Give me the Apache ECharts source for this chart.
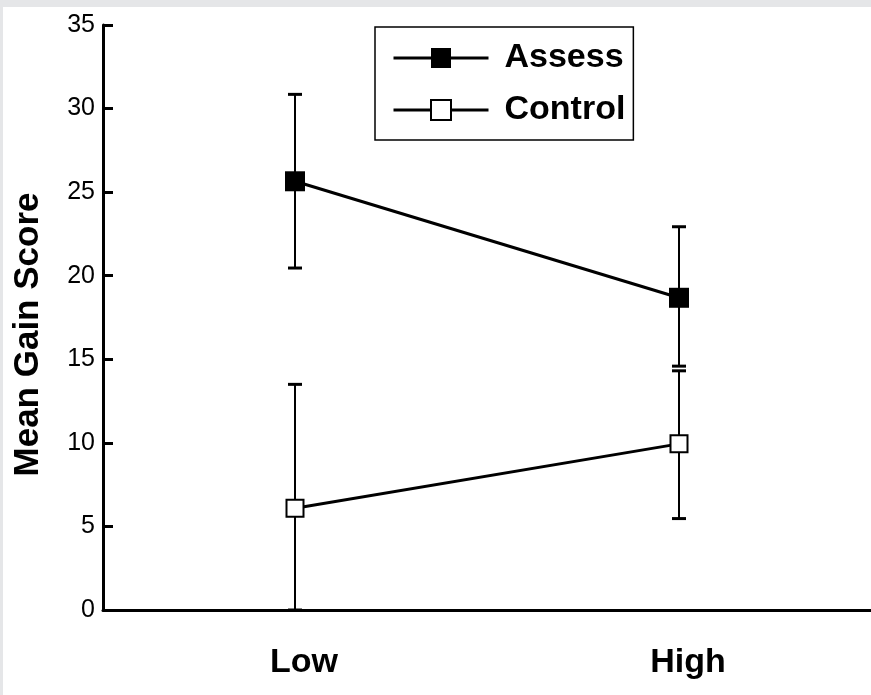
<!DOCTYPE html>
<html>
<head>
<meta charset="utf-8">
<script src="https://cdn.jsdelivr.net/npm/echarts@6/dist/echarts.min.js"></script>
<style>
  html, body { margin: 0; padding: 0; background: #e5e6e8; }
  #chart { position: absolute; left: 3px; top: 7px; width: 868px; height: 688px; background: #ffffff; }
</style>
</head>
<body>
<div id="chart"></div>
<script>
const categories = ['Low', 'High'];
const assessMean = [25.65, 18.68];
const assessUpper = [30.85, 22.93];
const assessLower = [20.46, 14.59];
const controlMean = [6.09, 9.94];
const controlUpper = [13.5, 14.31];
const controlLower = [0, 5.47];
const yMin = 0, yMax = 35, yStep = 5;

const errData = [];
categories.forEach((c, i) => {
  errData.push([i, assessLower[i], assessUpper[i]]);
  errData.push([i, controlLower[i], controlUpper[i]]);
});

function renderErr(params, api) {
  const x = api.value(0);
  const lo = api.coord([x, api.value(1)]);
  const hi = api.coord([x, api.value(2)]);
  const cw = 7;
  const stroke = { stroke: '#000', lineWidth: 2 };
  const capStroke = { stroke: '#000', lineWidth: 3 };
  return {
    type: 'group',
    children: [
      { type: 'line', shape: { x1: lo[0], y1: lo[1], x2: hi[0], y2: hi[1] }, style: stroke },
      { type: 'line', shape: { x1: hi[0] - cw, y1: hi[1], x2: hi[0] + cw, y2: hi[1] }, style: capStroke },
      { type: 'line', shape: { x1: lo[0] - cw, y1: lo[1], x2: lo[0] + cw, y2: lo[1] }, style: capStroke }
    ]
  };
}

const chart = echarts.init(document.getElementById('chart'), null, { renderer: 'canvas' });
chart.setOption({
  animation: false,
  backgroundColor: '#ffffff',
  grid: { left: 95, right: 0, top: 18, bottom: 85, containLabel: false },
  legend: {
    orient: 'vertical',
    left: 372,
    top: 20,
    padding: [14, 8, 13, 17],
    itemGap: 18,
    itemWidth: 95,
    itemHeight: 25,
    borderColor: '#000',
    borderWidth: 1.5,
    lineStyle: { width: 3, color: '#000' },
    textStyle: { fontFamily: 'Liberation Sans', fontWeight: 'bold', fontSize: 34, color: '#000', padding: [0, 0, 0, 11] },
    data: ['Assess', 'Control']
  },
  xAxis: {
    type: 'category',
    data: categories,
    boundaryGap: true,
    axisLine: { lineStyle: { color: '#000', width: 3 } },
    axisTick: { show: false },
    axisLabel: { fontFamily: 'Liberation Sans', fontWeight: 'bold', fontSize: 34, color: '#000', margin: 36, padding: [0, 0, 0, 18] },
    splitLine: { show: false }
  },
  yAxis: {
    type: 'value',
    min: yMin, max: yMax, interval: yStep,
    name: 'Mean Gain Score',
    nameLocation: 'middle',
    nameGap: 57,
    nameTextStyle: { fontFamily: 'Liberation Sans', fontWeight: 'bold', fontSize: 35, color: '#000', padding: [0, 34, 0, 0] },
    axisLine: { show: true, lineStyle: { color: '#000', width: 3 } },
    axisTick: { show: true, inside: true, length: 10, lineStyle: { color: '#000', width: 3 } },
    axisLabel: { fontFamily: 'Liberation Sans', fontSize: 25, color: '#000', margin: 8 },
    splitLine: { show: false }
  },
  series: [
    {
      type: 'custom',
      name: 'err',
      z: 1,
      renderItem: renderErr,
      data: errData,
      silent: true
    },
    {
      type: 'line',
      name: 'Assess',
      z: 3,
      data: assessMean,
      symbol: 'rect',
      symbolSize: 20,
      lineStyle: { color: '#000', width: 3 },
      itemStyle: { color: '#000', borderColor: '#000', borderWidth: 0 }
    },
    {
      type: 'line',
      name: 'Control',
      z: 3,
      data: controlMean,
      symbol: 'rect',
      symbolSize: 17,
      lineStyle: { color: '#000', width: 3 },
      itemStyle: { color: '#fff', borderColor: '#000', borderWidth: 2 }
    }
  ]
});
</script>
</body>
</html>
